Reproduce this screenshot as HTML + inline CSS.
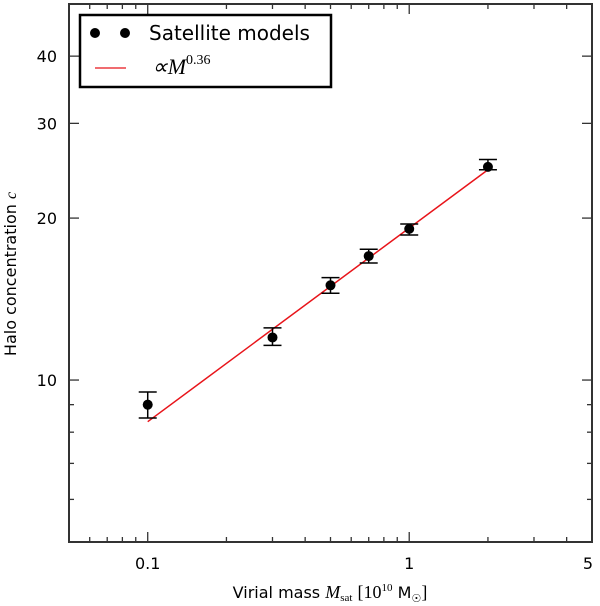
<!DOCTYPE html>
<html><head><meta charset="utf-8"><style>
html,body{margin:0;padding:0;background:#fff;}
svg{display:block;font-family:"DejaVu Sans","Liberation Sans",sans-serif;}
</style></head><body>
<svg id="chart" width="600" height="606" viewBox="0 0 600 606">
<g id="ticks"></g>
<line id="fit" stroke="#e8141a" stroke-width="1.5"/>
<g id="pts"></g>
<rect x="69" y="4" width="523" height="538" fill="none" stroke="#333" stroke-width="2"/>
<g>
<rect x="80" y="15" width="251" height="72" fill="#fff" stroke="#000" stroke-width="2.5"/>
<circle cx="95" cy="33" r="5" fill="#000"/>
<circle cx="125" cy="33" r="5" fill="#000"/>
<text x="149" y="40" font-size="20">Satellite models</text>
<line x1="95" y1="68" x2="126" y2="68" stroke="#e8141a" stroke-width="1.3"/>
<text x="152" y="74" font-size="22" font-family="Liberation Serif,serif" font-style="italic">∝M<tspan font-size="14" dy="-10" font-style="normal">0.36</tspan></text>
</g>
<text x="16" y="274" font-size="16" text-anchor="middle" transform="rotate(-90 16 274)">Halo concentration <tspan font-family="Liberation Serif,serif" font-style="italic">c</tspan></text>
<text x="330" y="598" font-size="16" text-anchor="middle">Virial mass <tspan font-family="Liberation Serif,serif" font-style="italic" font-size="18">M</tspan><tspan font-family="Liberation Serif,serif" font-size="11" dy="3">sat</tspan><tspan dy="-3">  </tspan><tspan font-family="Liberation Serif,serif" font-size="18">[10</tspan><tspan font-family="Liberation Serif,serif" font-size="11" dy="-7">10</tspan><tspan dy="7">  M</tspan><tspan font-size="11" dy="4">☉</tspan><tspan dy="-4" font-family="Liberation Serif,serif" font-size="18">]</tspan></text>
</svg>
<script>
const masses=[0.1,0.3,0.5,0.7,1,2];
const conc=[9.0,12.0,15.0,17.0,19.1,24.9];
const errLo=[8.5,11.6,14.5,16.5,18.6,24.6];
const errHi=[9.5,12.5,15.5,17.5,19.5,25.7];
const fitNorm=24.6, fitPivot=2, fitSlope=0.36, fitRange=[0.1,2];
const xMajor=[0.1,1,5], xMajorLabels=["0.1","1","5"];
const xMinor=[0.06,0.07,0.08,0.09,0.2,0.3,0.4,0.5,0.6,0.7,0.8,0.9,2,3,4];
const yMajor=[10,20,30,40], yMajorLabels=["10","20","30","40"];
const yMinor=[6,7,8,9];
const L=69,R=592,T=4,B=542;
const xs=v=>L+(Math.log10(v)-Math.log10(0.05))/(2)*(R-L);
const ys=v=>B-(Math.log10(v)-Math.log10(5))/1*(B-T);
const NS="http://www.w3.org/2000/svg";
function mk(tag,attrs,parent){const e=document.createElementNS(NS,tag);for(const k in attrs)e.setAttribute(k,attrs[k]);parent.appendChild(e);return e;}
const tg=document.getElementById('ticks');
xMajor.forEach((v,i)=>{const x=xs(v);
 let a=mk('line',{x1:x,x2:x,y1:B,y2:B-10,stroke:'#333','stroke-width':1.3},tg);
 
 let b=mk('line',{x1:x,x2:x,y1:T,y2:T+10,stroke:'#333','stroke-width':1.3},tg);
 
 let t=mk('text',{x:(i==2?x-4:x),y:569,'font-size':16,'text-anchor':'middle'},tg);t.textContent=xMajorLabels[i];
 });
xMinor.forEach(v=>{const x=xs(v);
 let a=mk('line',{x1:x,x2:x,y1:B,y2:B-5,stroke:'#333','stroke-width':1.3},tg);
 
 let b=mk('line',{x1:x,x2:x,y1:T,y2:T+5,stroke:'#333','stroke-width':1.3},tg);
 });
yMajor.forEach((v,i)=>{const y=ys(v);
 let a=mk('line',{x1:L,x2:L+10,y1:y,y2:y,stroke:'#333','stroke-width':1.3},tg);
 
 let b=mk('line',{x1:R,x2:R-10,y1:y,y2:y,stroke:'#333','stroke-width':1.3},tg);
 
 let t=mk('text',{x:57,y:y+6,'font-size':16,'text-anchor':'end'},tg);t.textContent=yMajorLabels[i];
 });
yMinor.forEach(v=>{const y=ys(v);
 let a=mk('line',{x1:L,x2:L+5,y1:y,y2:y,stroke:'#333','stroke-width':1.3},tg);
 
 let b=mk('line',{x1:R,x2:R-5,y1:y,y2:y,stroke:'#333','stroke-width':1.3},tg);
 });
const fit=document.getElementById('fit');
const f=m=>fitNorm*Math.pow(m/fitPivot,fitSlope);
fit.setAttribute('x1',xs(fitRange[0]));fit.setAttribute('y1',ys(f(fitRange[0])));
fit.setAttribute('x2',xs(fitRange[1]));fit.setAttribute('y2',ys(f(fitRange[1])));
const pg=document.getElementById('pts');
masses.forEach((m,i)=>{const x=xs(m);
 const g=mk('g',{},pg);
 
 mk('line',{x1:x,x2:x,y1:ys(errLo[i]),y2:ys(errHi[i]),stroke:'#000','stroke-width':1.5},g);
 mk('line',{x1:x-9,x2:x+9,y1:ys(errLo[i]),y2:ys(errLo[i]),stroke:'#000','stroke-width':1.5},g);
 mk('line',{x1:x-9,x2:x+9,y1:ys(errHi[i]),y2:ys(errHi[i]),stroke:'#000','stroke-width':1.5},g);
 mk('circle',{cx:x,cy:ys(conc[i]),r:5,fill:'#000'},g);});
</script>
</body></html>
